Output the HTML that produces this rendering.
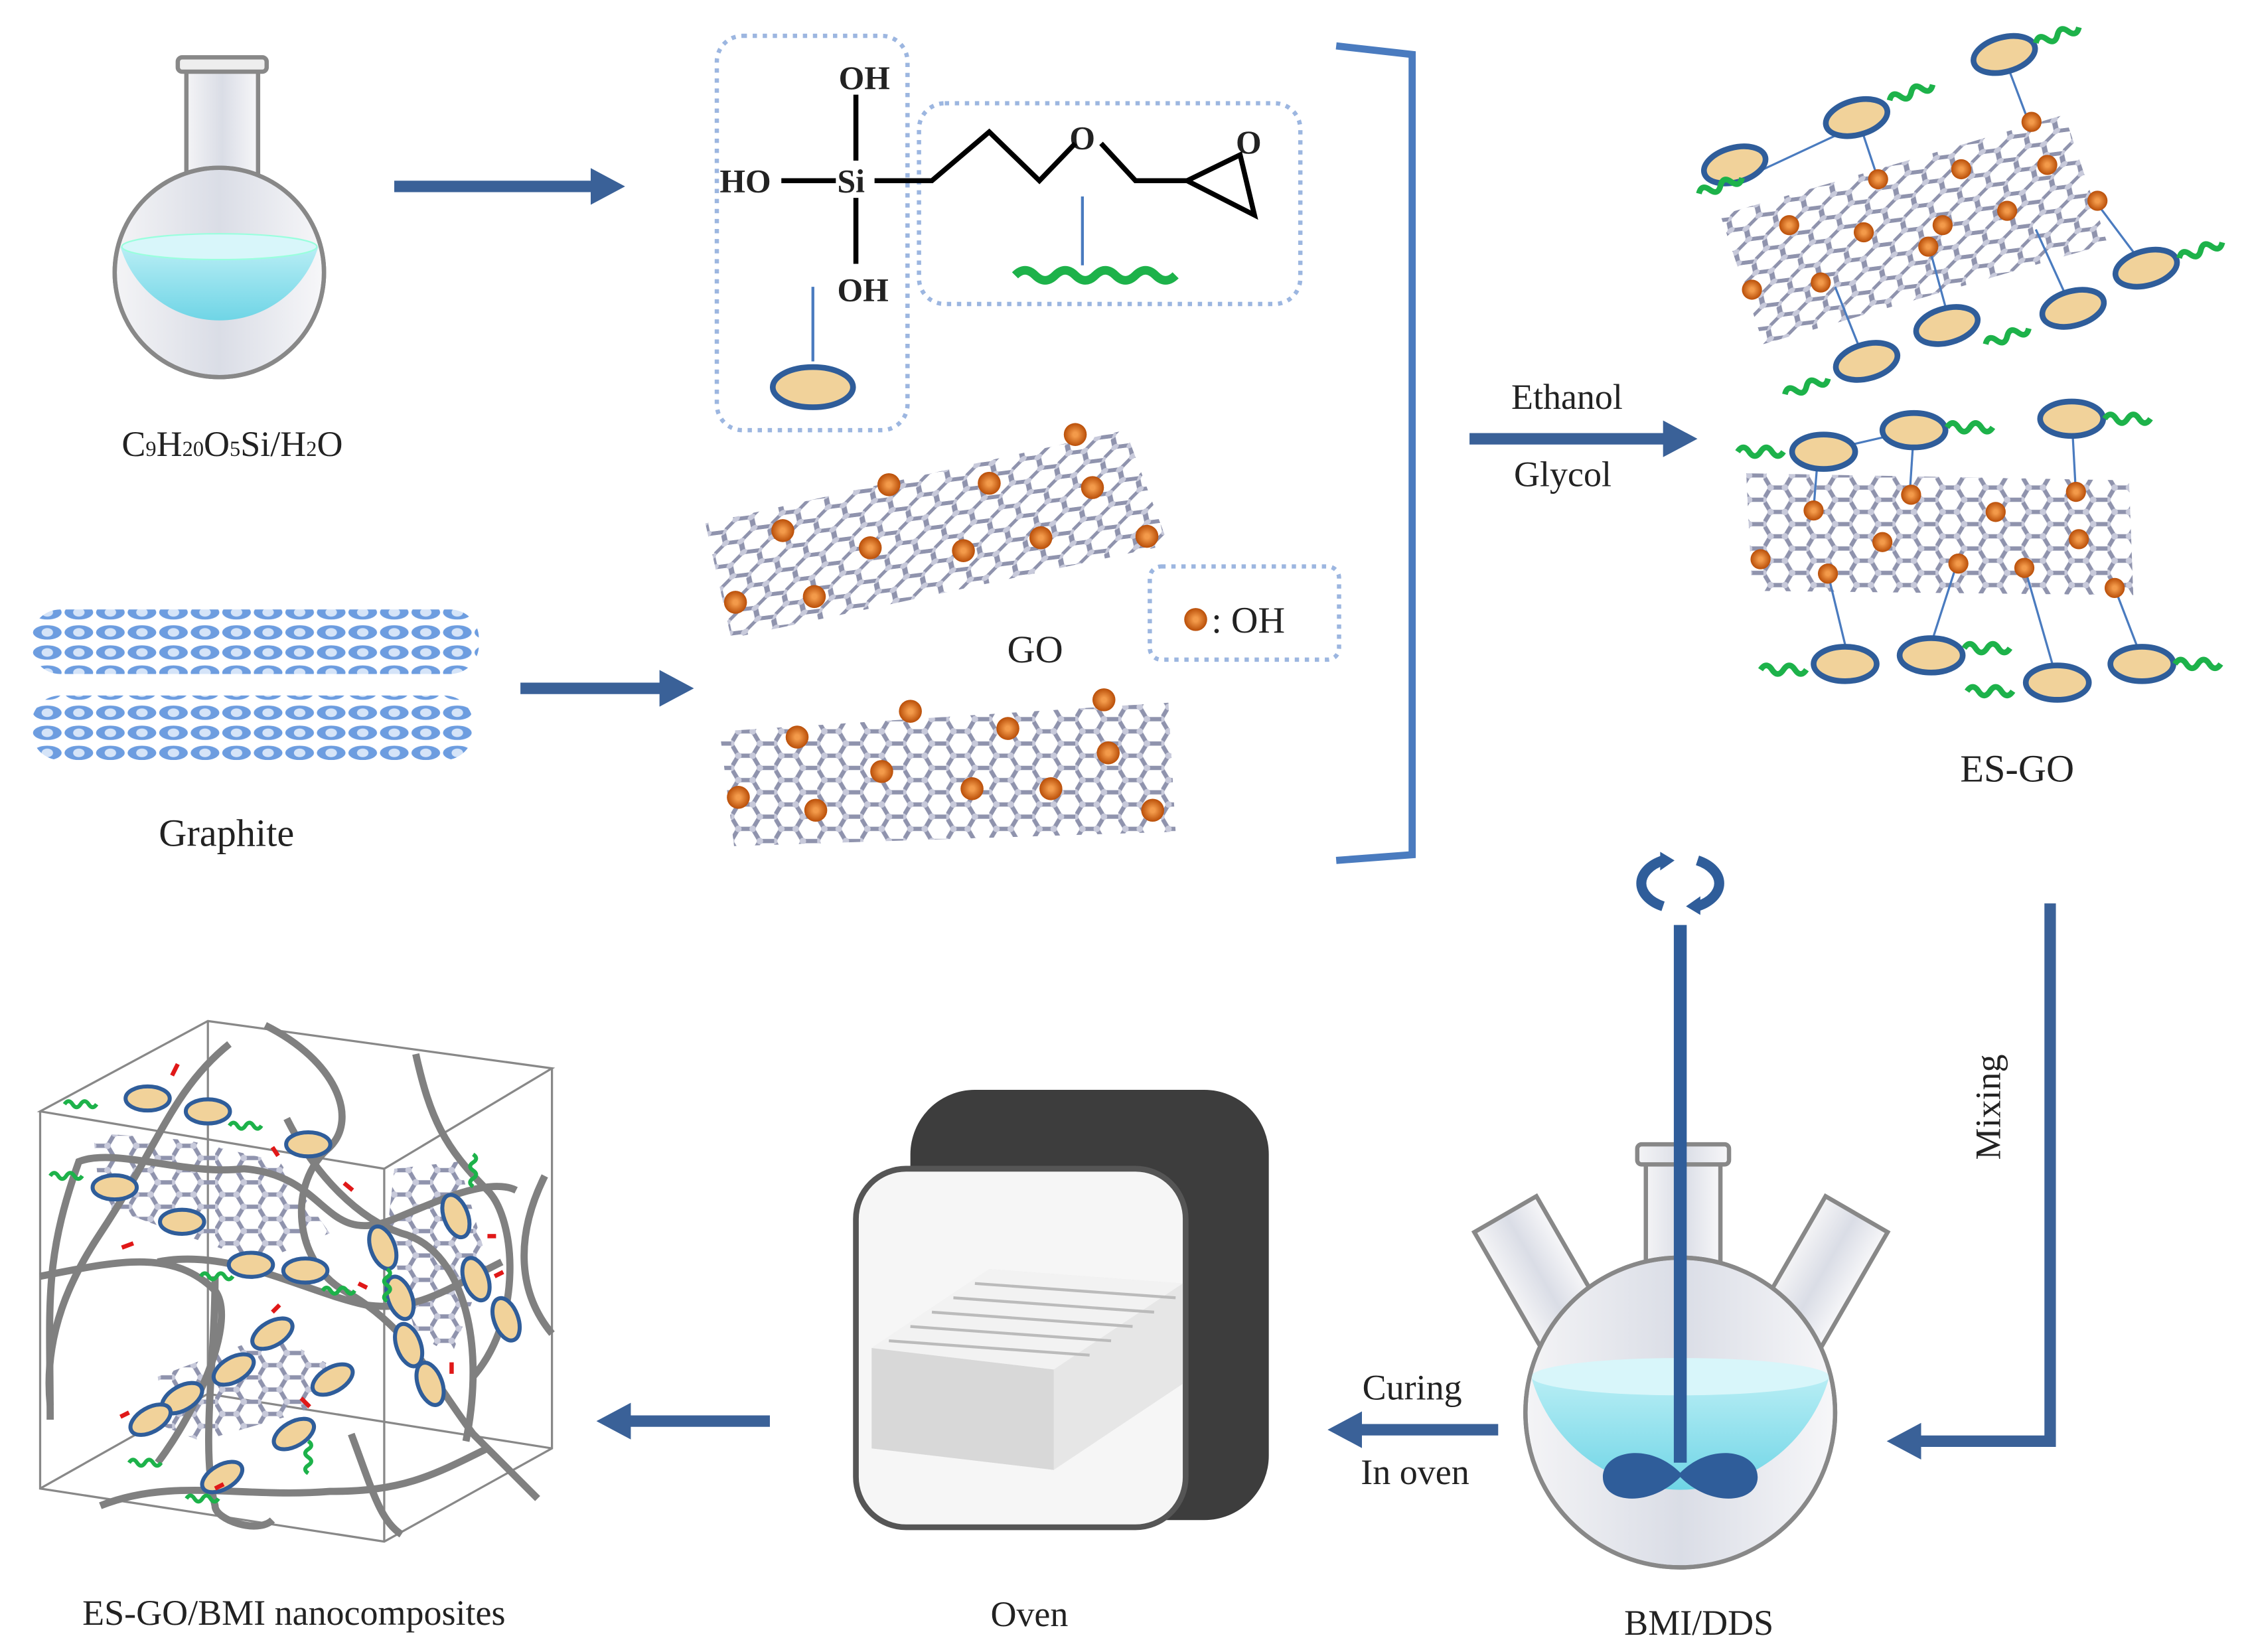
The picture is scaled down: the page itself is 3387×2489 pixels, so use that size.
<!DOCTYPE html>
<html><head><meta charset="utf-8"><style>html,body{margin:0;padding:0;background:#fff}svg{display:block}text{font-family:"Liberation Serif",serif;fill:#222}</style></head>
<body>
<svg width="3387" height="2489" viewBox="0 0 1568 1152" preserveAspectRatio="none" xmlns="http://www.w3.org/2000/svg">
<defs>
<pattern id="hex" width="30" height="17" patternUnits="userSpaceOnUse" patternTransform="skewX(-30) rotate(-8)">
<path d="M0,8.5 L5,0 H15 L20,8.5 L15,17 H5 Z M20,8.5 H30" fill="none" stroke="#8f93ad" stroke-width="3"/>
<circle cx="5" cy="0" r="2.3" fill="#c8cadb"/><circle cx="15" cy="0" r="2.3" fill="#c8cadb"/><circle cx="20" cy="8.5" r="2.3" fill="#c8cadb"/><circle cx="0" cy="8.5" r="2.3" fill="#c8cadb"/><circle cx="5" cy="17" r="2.3" fill="#c8cadb"/><circle cx="15" cy="17" r="2.3" fill="#c8cadb"/>
</pattern>
<pattern id="hex2" width="30" height="17" patternUnits="userSpaceOnUse">
<path d="M0,8.5 L5,0 H15 L20,8.5 L15,17 H5 Z M20,8.5 H30" fill="none" stroke="#8f93ad" stroke-width="3"/>
<circle cx="5" cy="0" r="2.3" fill="#c8cadb"/><circle cx="15" cy="0" r="2.3" fill="#c8cadb"/><circle cx="20" cy="8.5" r="2.3" fill="#c8cadb"/><circle cx="0" cy="8.5" r="2.3" fill="#c8cadb"/><circle cx="5" cy="17" r="2.3" fill="#c8cadb"/><circle cx="15" cy="17" r="2.3" fill="#c8cadb"/>
</pattern>
<pattern id="gra" width="22" height="14" patternUnits="userSpaceOnUse">
<ellipse cx="11" cy="7" rx="10" ry="5" fill="#6d9de0"/><ellipse cx="11" cy="7" rx="4" ry="3" fill="#d5e4f8"/>
</pattern>
<radialGradient id="ball"><stop offset="0.2" stop-color="#f39a4a"/><stop offset="1" stop-color="#b94e08"/></radialGradient>
<linearGradient id="liq" x1="0" y1="0" x2="0" y2="1"><stop offset="0" stop-color="#bff0f6"/><stop offset="1" stop-color="#6fd5e6"/></linearGradient>
<linearGradient id="glass" x1="0" y1="0" x2="1" y2="0"><stop offset="0" stop-color="#f4f4f6"/><stop offset="0.5" stop-color="#dadde6"/><stop offset="1" stop-color="#f7f7f9"/></linearGradient>
<g id="ell"><ellipse cx="0" cy="0" rx="22" ry="12" fill="#f1d29a" stroke="#2f5d9a" stroke-width="4"/></g>
<path id="sq" d="M0,0 q4,-6 8,0 t8,0 t8,0 t8,0" fill="none" stroke="#1db24a" stroke-width="4"/>
<marker id="ah" markerWidth="3" markerHeight="3.2" refX="1.5" refY="1.6" orient="auto"><path d="M0,0 L3,1.6 L0,3.2 Z" fill="#3a6198"/></marker>
</defs>

<!-- flask -->
<rect x="130" y="44" width="50" height="100" fill="url(#glass)" stroke="#888" stroke-width="3"/>
<rect x="124" y="40" width="62" height="10" rx="3" fill="#eee" stroke="#888" stroke-width="3"/>
<circle cx="153" cy="190" r="73" fill="url(#glass)" stroke="#888" stroke-width="3"/>
<path d="M84,172 Q153,162 222,172 A72,72 0 0 1 84,172 Z" fill="url(#liq)"/>
<ellipse cx="153" cy="172" rx="68" ry="9" fill="#d8f6fa" stroke="#9fd" stroke-width="1"/>
<circle cx="153" cy="190" r="73" fill="none" stroke="#888" stroke-width="3"/>
<text x="162" y="318" font-size="25" text-anchor="middle">C<tspan font-size="15">9</tspan>H<tspan font-size="15">20</tspan>O<tspan font-size="15">5</tspan>Si/H<tspan font-size="15">2</tspan>O</text>

<!-- arrows -->
<g stroke="#3a6198" stroke-width="8" fill="none">
<line x1="275" y1="130" x2="424" y2="130" marker-end="url(#ah)"/>
<line x1="363" y1="480" x2="472" y2="480" marker-end="url(#ah)"/>
<line x1="1025" y1="306" x2="1172" y2="306" marker-end="url(#ah)"/>
<line x1="1045" y1="997" x2="938" y2="997" marker-end="url(#ah)"/>
<line x1="537" y1="991" x2="428" y2="991" marker-end="url(#ah)"/>
<polyline points="1430,630 1430,1005 1328,1005" marker-end="url(#ah)"/>
</g>

<!-- chemistry -->
<rect x="500" y="25" width="133" height="275" rx="18" fill="none" stroke="#9cb6e0" stroke-width="3" stroke-dasharray="3,4"/>
<rect x="641" y="72" width="266" height="140" rx="18" fill="none" stroke="#9cb6e0" stroke-width="3" stroke-dasharray="3,4"/>
<g font-weight="bold" font-size="23"><text x="585" y="62">OH</text><text x="502" y="134">HO</text><text x="584" y="134">Si</text><text x="584" y="210">OH</text><text x="746" y="104">O</text><text x="862" y="107">O</text></g>
<g stroke="#000" stroke-width="3.5" fill="none">
<line x1="597" y1="66" x2="597" y2="112"/><line x1="597" y1="138" x2="597" y2="184"/><line x1="545" y1="126" x2="583" y2="126"/>
<polyline points="610,126 650,126 690,92 725,126 750,100"/><polyline points="768,100 792,126 828,126 865,108 875,150 828,126"/>
</g>
<g stroke="#4a7bbf" stroke-width="2"><line x1="567" y1="200" x2="567" y2="252"/><line x1="755" y1="137" x2="755" y2="185"/></g>
<ellipse cx="567" cy="270" rx="28" ry="14" fill="#f1d29a" stroke="#2f5d9a" stroke-width="4"/>
<path d="M708,192 q7,-7 14,0 t14,0 t14,0 t14,0 t14,0 t14,0 t14,0 t14,0" fill="none" stroke="#1db24a" stroke-width="6"/>

<!-- bracket -->
<path d="M932,32 L985,38 L985,596 L932,600" fill="none" stroke="#4a7bbf" stroke-width="5"/>
<text x="1093" y="285" font-size="25" text-anchor="middle">Ethanol</text>
<text x="1090" y="339" font-size="25" text-anchor="middle">Glycol</text>

<!-- graphite -->
<rect x="22" y="425" width="312" height="45" rx="20" fill="url(#gra)"/>
<rect x="22" y="485" width="308" height="45" rx="20" fill="url(#gra)"/>
<text x="158" y="590" font-size="27" text-anchor="middle">Graphite</text>

<!-- GO sheets -->
<polygon points="492,365 785,300 815,380 510,445" fill="url(#hex)"/>
<polygon points="502,510 815,490 820,580 512,590" fill="url(#hex2)"/>
<g fill="url(#ball)">
<circle cx="750" cy="303" r="8"/><circle cx="620" cy="338" r="8"/><circle cx="690" cy="337" r="8"/><circle cx="762" cy="340" r="8"/><circle cx="546" cy="370" r="8"/><circle cx="607" cy="382" r="8"/><circle cx="672" cy="384" r="8"/><circle cx="726" cy="375" r="8"/><circle cx="800" cy="374" r="8"/><circle cx="513" cy="420" r="8"/><circle cx="568" cy="416" r="8"/>
<circle cx="635" cy="496" r="8"/><circle cx="703" cy="508" r="8"/><circle cx="770" cy="488" r="8"/><circle cx="556" cy="514" r="8"/><circle cx="773" cy="525" r="8"/><circle cx="615" cy="538" r="8"/><circle cx="515" cy="556" r="8"/><circle cx="678" cy="550" r="8"/><circle cx="733" cy="550" r="8"/><circle cx="569" cy="565" r="8"/><circle cx="804" cy="565" r="8"/>
</g>
<text x="722" y="462" font-size="27" text-anchor="middle">GO</text>
<rect x="802" y="395" width="132" height="65" rx="8" fill="none" stroke="#9cb6e0" stroke-width="3" stroke-dasharray="3,4"/>
<circle cx="834" cy="432" r="8" fill="url(#ball)"/><text x="845" y="441" font-size="26">: OH</text>

<!-- ES-GO -->
<polygon points="1200,150 1440,80 1470,170 1230,240" fill="url(#hex)"/>
<polygon points="1218,330 1485,335 1488,415 1222,412" fill="url(#hex2)"/>
<g stroke="#4a7bbf" stroke-width="1.5">
<line x1="1230" y1="118" x2="1290" y2="90"/><line x1="1295" y1="80" x2="1310" y2="125"/><line x1="1398" y1="40" x2="1415" y2="85"/><line x1="1465" y1="145" x2="1495" y2="185"/><line x1="1445" y1="215" x2="1420" y2="160"/><line x1="1360" y1="225" x2="1345" y2="170"/><line x1="1300" y1="250" x2="1280" y2="200"/>
<line x1="1270" y1="315" x2="1335" y2="300"/><line x1="1268" y1="318" x2="1265" y2="355"/><line x1="1335" y1="300" x2="1332" y2="345"/><line x1="1445" y1="290" x2="1448" y2="345"/><line x1="1290" y1="462" x2="1275" y2="400"/><line x1="1345" y1="455" x2="1365" y2="393"/><line x1="1435" y1="475" x2="1412" y2="395"/><line x1="1495" y1="462" x2="1475" y2="410"/>
</g>
<g fill="url(#ball)">
<circle cx="1417" cy="85" r="7"/><circle cx="1310" cy="125" r="7"/><circle cx="1368" cy="118" r="7"/><circle cx="1428" cy="115" r="7"/><circle cx="1248" cy="157" r="7"/><circle cx="1300" cy="162" r="7"/><circle cx="1355" cy="157" r="7"/><circle cx="1400" cy="147" r="7"/><circle cx="1463" cy="140" r="7"/><circle cx="1222" cy="202" r="7"/><circle cx="1270" cy="197" r="7"/><circle cx="1345" cy="172" r="7"/>
<circle cx="1333" cy="345" r="7"/><circle cx="1448" cy="343" r="7"/><circle cx="1265" cy="356" r="7"/><circle cx="1392" cy="357" r="7"/><circle cx="1313" cy="378" r="7"/><circle cx="1450" cy="376" r="7"/><circle cx="1228" cy="390" r="7"/><circle cx="1275" cy="400" r="7"/><circle cx="1366" cy="393" r="7"/><circle cx="1412" cy="396" r="7"/><circle cx="1475" cy="410" r="7"/>
</g>
<g>
<use href="#ell" transform="translate(1398,38) rotate(-15)"/><use href="#ell" transform="translate(1295,82) rotate(-15)"/><use href="#ell" transform="translate(1210,115) rotate(-15)"/><use href="#ell" transform="translate(1497,187) rotate(-15)"/><use href="#ell" transform="translate(1446,215) rotate(-15)"/><use href="#ell" transform="translate(1358,227) rotate(-15)"/><use href="#ell" transform="translate(1302,252) rotate(-15)"/>
<use href="#ell" transform="translate(1272,315)"/><use href="#ell" transform="translate(1335,300)"/><use href="#ell" transform="translate(1445,292)"/><use href="#ell" transform="translate(1287,463)"/><use href="#ell" transform="translate(1347,457)"/><use href="#ell" transform="translate(1435,476)"/><use href="#ell" transform="translate(1494,463)"/>
</g>
<g>
<use href="#sq" transform="translate(1420,30) rotate(-20)"/><use href="#sq" transform="translate(1318,70) rotate(-20)"/><use href="#sq" transform="translate(1185,135) rotate(-20)"/><use href="#sq" transform="translate(1520,180) rotate(-20)"/><use href="#sq" transform="translate(1385,240) rotate(-20)"/><use href="#sq" transform="translate(1245,275) rotate(-20)"/>
<use href="#sq" transform="translate(1212,315)"/><use href="#sq" transform="translate(1358,298)"/><use href="#sq" transform="translate(1468,292)"/><use href="#sq" transform="translate(1228,467)"/><use href="#sq" transform="translate(1370,452)"/><use href="#sq" transform="translate(1372,482)"/><use href="#sq" transform="translate(1517,463)"/>
</g>
<text x="1407" y="545" font-size="27" text-anchor="middle">ES-GO</text>

<!-- Mixing -->
<text transform="translate(1395,772) rotate(-90)" font-size="25" text-anchor="middle">Mixing</text>

<!-- three-neck flask -->
<g stroke="#888" stroke-width="3" fill="url(#glass)">
<rect x="1050" y="840" width="50" height="100" transform="rotate(-30 1075 890)"/>
<rect x="1245" y="840" width="50" height="100" transform="rotate(30 1270 890)"/>
<rect x="1148" y="805" width="52" height="85"/>
<rect x="1142" y="798" width="64" height="14" rx="3"/>
<circle cx="1172" cy="985" r="108"/>
</g>
<path d="M1068,960 Q1172,945 1276,960 A108,108 0 0 1 1068,960 Z" fill="url(#liq)"/>
<ellipse cx="1172" cy="960" rx="104" ry="13" fill="#d8f6fa"/>
<circle cx="1172" cy="985" r="108" fill="none" stroke="#888" stroke-width="3"/>
<line x1="1172" y1="645" x2="1172" y2="1020" stroke="#2f5d9a" stroke-width="9"/>
<path d="M1172,1027 C1150,1005 1118,1012 1118,1030 C1118,1048 1150,1052 1172,1030 C1194,1052 1226,1048 1226,1030 C1226,1012 1194,1005 1172,1027 Z" fill="#2f5d9a"/>
<g fill="none" stroke="#2f5d9a" stroke-width="7"><path d="M1160,600 A28,18 0 0 0 1160,632"/><path d="M1184,632 A28,18 0 0 0 1184,600"/></g>
<path d="M1158,594 l10,6 l-10,7 Z M1186,638 l-10,-6 l10,-7 Z" fill="#2f5d9a"/>
<text x="1185" y="1140" font-size="25" text-anchor="middle">BMI/DDS</text>
<text x="985" y="976" font-size="25" text-anchor="middle">Curing</text>
<text x="987" y="1035" font-size="25" text-anchor="middle">In oven</text>

<!-- oven -->
<rect x="635" y="760" width="250" height="300" rx="45" fill="#3d3d3d"/>
<rect x="597" y="815" width="230" height="250" rx="35" fill="#f6f6f6" stroke="#555" stroke-width="4"/>
<polygon points="608,940 690,885 825,895 825,965 735,1025 608,1010" fill="#e6e6e6"/>
<polygon points="608,940 735,955 735,1025 608,1010" fill="#d8d8d8"/>
<polygon points="608,940 690,885 825,895 735,955" fill="#f2f2f2"/>
<g stroke="#bbb" stroke-width="2"><line x1="620" y1="935" x2="760" y2="945"/><line x1="635" y1="925" x2="775" y2="935"/><line x1="650" y1="915" x2="790" y2="925"/><line x1="665" y1="905" x2="805" y2="915"/><line x1="680" y1="895" x2="820" y2="905"/></g>
<text x="718" y="1134" font-size="25" text-anchor="middle">Oven</text>

<!-- composite cube -->
<g stroke="#888" stroke-width="1.5" fill="none">
<polygon points="28,775 145,712 385,745 268,815"/><polyline points="28,775 28,1038 268,1075 385,1010 385,745"/><line x1="268" y1="815" x2="268" y2="1075"/>
<polyline points="145,712 145,972 28,1038"/><line x1="145" y1="972" x2="385" y2="1010"/>
</g>
<polygon points="65,790 130,795 195,810 230,860 180,880 70,840" fill="url(#hex2)"/>
<polygon points="275,815 320,810 340,880 315,945 290,930 270,860" fill="url(#hex2)"/>
<polygon points="110,960 190,930 245,960 210,985 140,1005 115,995" fill="url(#hex2)"/>
<g fill="none" stroke="#808080" stroke-width="5">
<path d="M35,990 C35,910 30,880 55,810 C80,800 130,820 170,815 C230,820 225,870 275,850 C300,840 340,820 360,830"/>
<path d="M28,890 C80,880 120,870 150,900 C165,920 140,980 110,1020"/>
<path d="M160,728 C120,760 110,800 70,860 C50,890 30,930 35,980"/>
<path d="M185,715 C235,740 250,780 230,800 C200,825 205,880 240,900 C285,925 300,960 330,1000 C350,1020 360,1030 375,1045"/>
<path d="M290,735 C300,780 310,800 340,830 C360,850 365,920 330,960"/>
<path d="M110,880 C160,870 210,900 255,910 C290,915 310,900 350,880"/>
<path d="M70,1050 C120,1030 170,1045 230,1040 C280,1040 300,1030 340,1010"/>
<path d="M150,890 C150,950 140,1010 150,1050 C150,1060 180,1070 190,1060"/>
<path d="M200,780 C220,820 250,850 280,860 C320,870 340,930 325,1005"/>
<path d="M380,820 C360,860 360,900 385,930"/>
<path d="M245,1000 C260,1040 265,1060 280,1070"/>
</g>
<g>
<use href="#ell" transform="translate(103,766) scale(.7)"/><use href="#ell" transform="translate(145,775) scale(.7)"/><use href="#ell" transform="translate(80,828) scale(.7)"/><use href="#ell" transform="translate(127,852) scale(.7)"/><use href="#ell" transform="translate(215,798) scale(.7)"/><use href="#ell" transform="translate(175,882) scale(.7)"/><use href="#ell" transform="translate(213,886) scale(.7)"/>
<use href="#ell" transform="translate(318,848) rotate(70) scale(.7)"/><use href="#ell" transform="translate(267,870) rotate(70) scale(.7)"/><use href="#ell" transform="translate(279,905) rotate(70) scale(.7)"/><use href="#ell" transform="translate(332,892) rotate(70) scale(.7)"/><use href="#ell" transform="translate(353,920) rotate(70) scale(.7)"/><use href="#ell" transform="translate(285,938) rotate(70) scale(.7)"/><use href="#ell" transform="translate(300,965) rotate(70) scale(.7)"/>
<use href="#ell" transform="translate(190,930) rotate(-30) scale(.7)"/><use href="#ell" transform="translate(163,955) rotate(-30) scale(.7)"/><use href="#ell" transform="translate(127,975) rotate(-30) scale(.7)"/><use href="#ell" transform="translate(105,990) rotate(-30) scale(.7)"/><use href="#ell" transform="translate(232,962) rotate(-30) scale(.7)"/><use href="#ell" transform="translate(205,1000) rotate(-30) scale(.7)"/><use href="#ell" transform="translate(155,1030) rotate(-30) scale(.7)"/>
</g>
<g stroke="#e01818" stroke-width="3" fill="none"><path d="M120,750 l4,-8"/><path d="M190,800 l4,6"/><path d="M85,870 l8,-3"/><path d="M240,825 l6,5"/><path d="M340,862 l6,0"/><path d="M250,895 l6,3"/><path d="M195,910 l-5,5"/><path d="M150,1038 l6,-3"/><path d="M90,985 l-6,3"/><path d="M210,975 l6,6"/><path d="M315,950 l0,8"/><path d="M345,890 l6,-3"/></g>
<g><use href="#sq" transform="translate(45,770) scale(.7)"/><use href="#sq" transform="translate(160,785) scale(.7)"/><use href="#sq" transform="translate(35,820) scale(.7)"/><use href="#sq" transform="translate(140,890) scale(.7)"/><use href="#sq" transform="translate(225,900) scale(.7)"/><use href="#sq" transform="translate(270,885) rotate(90) scale(.7)"/><use href="#sq" transform="translate(330,805) rotate(90) scale(.7)"/><use href="#sq" transform="translate(90,1020) scale(.7)"/><use href="#sq" transform="translate(130,1045) scale(.7)"/><use href="#sq" transform="translate(215,1005) rotate(90) scale(.7)"/></g>
<text x="205" y="1133" font-size="25" text-anchor="middle">ES-GO/BMI nanocomposites</text>
</svg>
</body></html>
